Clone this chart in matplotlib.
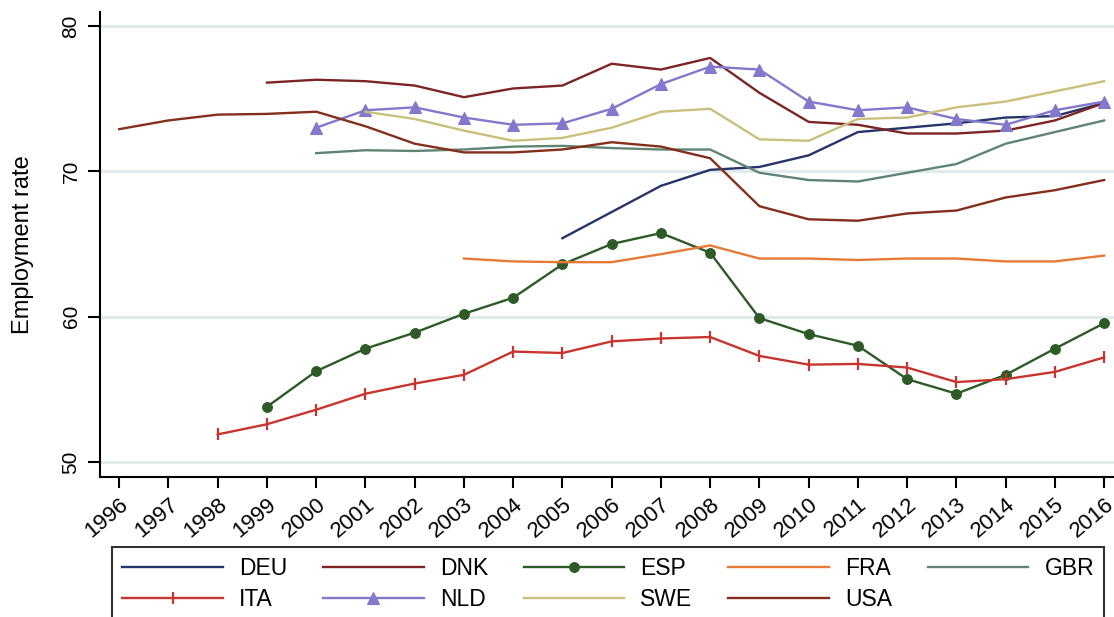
import numpy as np
import matplotlib
matplotlib.use("Agg")
import matplotlib.pyplot as plt

plt.rcParams["font.family"] = ["Liberation Sans", "DejaVu Sans"]

nan = np.nan

# -------- Employment rate by country, 1996-2016 --------
years = list(range(1996, 2017))

deu = [nan] * 9 + [65.4, 67.2, 69.0, 70.1, 70.3, 71.1, 72.7, 73.0, 73.3, 73.7, 73.8, 74.7]
dnk = [nan] * 3 + [76.1, 76.3, 76.2, 75.9, 75.1, 75.7, 75.9, 77.4, 77.0, 77.8,
                   75.4, 73.4, 73.2, 72.6, 72.6, 72.8, 73.5, 74.7]
esp = [nan] * 3 + [53.8, 56.25, 57.8, 58.9, 60.2, 61.3, 63.6, 65.0, 65.75, 64.4,
                   59.9, 58.8, 58.0, 55.7, 54.7, 56.0, 57.8, 59.55]
fra = [nan] * 7 + [64.0, 63.8, 63.75, 63.75, 64.3, 64.9, 64.0, 64.0, 63.9, 64.0,
                   64.0, 63.8, 63.8, 64.2]
gbr = [nan] * 4 + [71.25, 71.45, 71.4, 71.5, 71.7, 71.75, 71.6, 71.5, 71.5, 69.9,
                   69.4, 69.3, 69.9, 70.5, 71.9, 72.7, 73.5]
ita = [nan] * 2 + [51.9, 52.6, 53.6, 54.7, 55.4, 56.0, 57.6, 57.5, 58.3, 58.5, 58.6,
                   57.3, 56.7, 56.75, 56.5, 55.5, 55.7, 56.2, 57.2]
nld = [nan] * 4 + [73.0, 74.2, 74.4, 73.7, 73.2, 73.3, 74.3, 76.0, 77.2, 77.0,
                   74.8, 74.2, 74.4, 73.6, 73.2, 74.2, 74.8]
swe = [nan] * 5 + [74.1, 73.6, 72.8, 72.1, 72.3, 73.0, 74.1, 74.3, 72.2, 72.1,
                   73.6, 73.7, 74.4, 74.8, 75.5, 76.2]
usa = [72.9, 73.5, 73.9, 73.95, 74.1, 73.1, 71.9, 71.3, 71.3, 71.5, 72.0, 71.7,
       70.9, 67.6, 66.7, 66.6, 67.1, 67.3, 68.2, 68.7, 69.4]

countries = ["DEU", "DNK", "ESP", "FRA", "GBR", "ITA", "NLD", "SWE", "USA"]
series = [deu, dnk, esp, fra, gbr, ita, nld, swe, usa]

# Stata s2color-like palette
colors = ["#25346a", "#7d2424", "#2e5a28", "#e57a35", "#5f8474",
          "#c8352e", "#8278cc", "#c9c07c", "#842f1c"]
markers = [None, None, "o", None, None, "|", "^", None, None]
msizes = [0, 0, 7, 0, 0, 9, 9, 0, 0]

fig = plt.figure(figsize=(11.14, 6.17), dpi=100)
ax = fig.add_axes([100 / 1114, 1 - 477 / 617, 1 - 100 / 1114, (477 - 12) / 617])

lines = {}
for name, vals, c, m, ms in zip(countries, series, colors, markers, msizes):
    lines[name], = ax.plot(years, vals, color=c, lw=1.7, marker=m, markersize=ms,
                           markeredgewidth=1.6 if m == "|" else 0.8, label=name)

ax.set_xlim(1995.61, 2016.2)
ax.set_ylim(48.97, 80.96)
ax.set_xticks(years)
ax.set_xticklabels([str(y) for y in years], rotation=40, ha="right", va="top",
                   rotation_mode="anchor", fontsize=16)
ax.set_yticks([50, 60, 70, 80])
ax.set_yticklabels(["50", "60", "70", "80"], rotation=90, va="center", fontsize=15)
ax.tick_params(axis="x", length=8, width=1.5, pad=4)
ax.tick_params(axis="y", length=9, width=1.5, pad=5)

ax.grid(axis="y", color="#dfe9ec", lw=2)
ax.set_axisbelow(True)
for side in ["top", "right"]:
    ax.spines[side].set_visible(False)
for side in ["left", "bottom"]:
    ax.spines[side].set_linewidth(1.5)

ax.set_ylabel("Employment rate", fontsize=17)
ax.yaxis.set_label_coords(-0.065, 0.5)

# legend filled row by row: matplotlib fills columns, so interleave the order
leg_order = ["DEU", "ITA", "DNK", "NLD", "ESP", "SWE", "FRA", "USA", "GBR"]
leg = fig.legend([lines[n] for n in leg_order], leg_order,
                 loc="upper left", bbox_to_anchor=(112 / 1114, 1 - 547 / 617),
                 ncol=5, fontsize=16.5, frameon=True, fancybox=False,
                 edgecolor="black", handlelength=4.4, handletextpad=0.7,
                 columnspacing=1.55, labelspacing=0.35, borderpad=0.45,
                 borderaxespad=0, numpoints=1)
leg.get_frame().set_linewidth(1.5)

fig.savefig("out.png", dpi=100)
